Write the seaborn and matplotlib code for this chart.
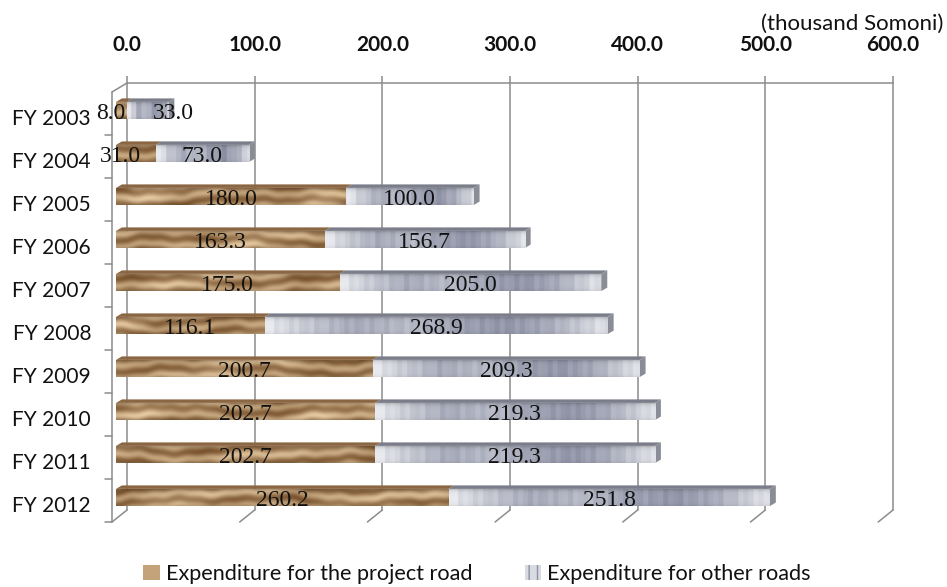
import numpy as np
import pandas as pd
import matplotlib
matplotlib.use("Agg")
import matplotlib.pyplot as plt
import seaborn as sns
from matplotlib.patches import Patch, Polygon
from matplotlib.lines import Line2D
from matplotlib.transforms import ScaledTranslation, IdentityTransform

# ---- data -------------------------------------------------------------
years = ["FY 2003", "FY 2004", "FY 2005", "FY 2006", "FY 2007",
         "FY 2008", "FY 2009", "FY 2010", "FY 2011", "FY 2012"]
project_road = [8.0, 31.0, 180.0, 163.3, 175.0, 116.1, 200.7, 202.7, 202.7, 260.2]
other_roads = [33.0, 73.0, 100.0, 156.7, 205.0, 268.9, 209.3, 219.3, 219.3, 251.8]
x_ticks = [0, 100, 200, 300, 400, 500, 600]
unit_label = "(thousand Somoni)"
legend_labels = ["Expenditure for the project road", "Expenditure for other roads"]

# ---- figure geometry ----------------------------------------------------
W, H, DPI = 947, 587, 100
sns.set_theme(style="white")
plt.rcParams["font.family"] = ["Lato", "DejaVu Sans"]

GRID = "#8c8c8c"
TEXT = "#111111"

fig = plt.figure(figsize=(W / DPI, H / DPI), dpi=DPI)
fig.patch.set_facecolor("white")


def rect(left, top, right, bottom):
    return [left / W, 1 - bottom / H, (right - left) / W, (bottom - top) / H]


# back wall (gridlines + value axis) and the bar plane in front of it
ax_back = fig.add_axes(rect(127, 83, 893, 510))
ax = fig.add_axes(rect(116, 89, 882.2, 519))
ax.set_facecolor("none")

n = len(years)
XMAX = 600
px_x = XMAX / (882.2 - 116)      # data units per pixel, bar plane
px_y = n / (519 - 89)

# ---- back wall ----------------------------------------------------------
ax_back.set_xlim(0, XMAX)
ax_back.set_ylim(0, 1)
ax_back.set_xticks(x_ticks)
ax_back.set_xticklabels([f"{v:.1f}" for v in x_ticks])
ax_back.xaxis.tick_top()
ax_back.tick_params(axis="x", top=True, bottom=False, length=5, width=1.1,
                    color=GRID, pad=15, labelsize=15, labelcolor=TEXT)
for lab in ax_back.get_xticklabels():
    lab.set_fontweight("bold")
ax_back.set_yticks([])
for s in ["left", "right", "bottom"]:
    ax_back.spines[s].set_visible(False)
ax_back.spines["top"].set_color(GRID)
ax_back.spines["top"].set_linewidth(1.1)
ax_back.grid(True, axis="x", color=GRID, linewidth=1.1)
ax_back.grid(False, axis="y")
for gl in ax_back.get_xgridlines():
    gl.set_clip_on(False)

# ---- bars ---------------------------------------------------------------
df = pd.DataFrame({"year": years, "project": project_road, "other": other_roads})
df["total"] = df["project"] + df["other"]

sns.barplot(data=df, x="total", y="year", orient="h", width=0.4,
            color="#a9adbb", saturation=1, errorbar=None, ax=ax)
sns.barplot(data=df, x="project", y="year", orient="h", width=0.4,
            color="#b8936a", saturation=1, errorbar=None, ax=ax)
gray_patches = ax.patches[:n]
wood_patches = ax.patches[n:2 * n]
for p in ax.patches:
    p.set_edgecolor("none")
    p.set_linewidth(0)


def wood_texture(w_px, h_px, phase):
    sx = 2
    nx, ny = max(int(w_px * sx), 2), max(int(h_px * sx), 2)
    X, Y = np.meshgrid(np.arange(nx) / sx, np.arange(ny) / sx)
    warp = (2.6 * np.sin(X / 43 + phase) + 1.6 * np.sin(X / 19 + 2.1 * phase)
            + 0.9 * np.sin(X / 8.3 + 0.7 * phase) + 0.5 * np.sin(X / 3.7 + 1.3 * phase))
    grain = 0.5 + 0.5 * np.sin((Y + warp) / h_px * 2 * np.pi * 1.4 + phase)
    streak = 0.5 + 0.5 * np.sin(X / 31 + (Y / h_px) * 3 + 1.3 * phase)
    knot = 0.5 + 0.5 * np.sin(X / 11 + 0.4 * phase) * np.sin(X / 57 + phase)
    v = 0.55 * grain + 0.25 * streak ** 2 + 0.2 * knot
    light = np.array([0.91, 0.80, 0.64])
    dark = np.array([0.48, 0.33, 0.18])
    img = dark + (light - dark) * v[..., None]
    yy = Y / h_px
    shade = 1 - 0.22 * np.exp(-yy / 0.12) - 0.15 * np.exp(-(1 - yy) / 0.1)
    return np.clip(img * shade[..., None], 0, 1)


def steel_texture(w_px, h_px):
    sx = 2
    nx, ny = max(int(w_px * sx), 2), max(int(h_px * sx), 2)
    X, Y = np.meshgrid(np.arange(nx) / sx, np.arange(ny) / sx)
    band = np.floor(X / 5) * 5
    t = np.clip(band / max(w_px, 1), 0, 1)
    knots = [0, 0.1, 0.25, 0.42, 0.55, 0.7, 0.82, 0.92, 0.97, 1.0]
    level = [0.92, 0.72, 0.5, 0.6, 0.44, 0.36, 0.5, 0.72, 0.86, 0.8]
    # alternating bands give the faceted metal look
    ripple = 0.05 * np.sin(band / 5 * 2.3)
    lv = np.clip(np.interp(t, knots, level) + ripple, 0, 1)
    light = np.array([0.965, 0.968, 0.978])
    dark = np.array([0.36, 0.38, 0.49])
    img = dark + (light - dark) * lv[..., None]
    yy = Y / h_px
    shade = 1 - 0.3 * np.exp(-yy / 0.1) - 0.1 * np.exp(-(1 - yy) / 0.1)
    return np.clip(img * shade[..., None], 0, 1)


half = 0.2
dx, dy = 6 * px_x, 3.5 * px_y
for i in range(n):
    p0 = project_road[i]
    p1 = p0 + other_roads[i]
    top, bot = i - half, i + half
    h_px = 2 * half / px_y

    # top faces
    ax.add_patch(Polygon([(p0, top), (p1, top), (p1 + dx, top - dy), (p0 + dx, top - dy)],
                         closed=True, facecolor="#7b7e8a", edgecolor="none", zorder=2))
    ax.add_patch(Polygon([(0, top), (p0, top), (p0 + dx, top - dy), (dx, top - dy)],
                         closed=True, facecolor="#8a6642", edgecolor="none", zorder=2.1))
    # side cap at the bar end
    ax.add_patch(Polygon([(p1, top), (p1 + dx, top - dy), (p1 + dx, bot - dy), (p1, bot)],
                         closed=True, facecolor="#8a8c96", edgecolor="none", zorder=2))

    im = ax.imshow(steel_texture((p1 - p0) / px_x, h_px), extent=[p0, p1, bot, top],
                   origin="upper", aspect="auto", interpolation="bilinear", zorder=2.5)
    im.set_clip_path(gray_patches[i])
    im = ax.imshow(wood_texture(p0 / px_x, h_px, 1.9 * i + 0.4), extent=[0, p0, bot, top],
                   origin="upper", aspect="auto", interpolation="bilinear", zorder=2.6)
    im.set_clip_path(wood_patches[i])

# value labels (small leading segments are nudged apart so labels stay legible)
label_shift_px = {(0, 0): -10, (0, 1): 26, (1, 0): -15}
for i in range(n):
    segs = [(0, project_road[i]), (project_road[i], project_road[i] + other_roads[i])]
    vals = [project_road[i], other_roads[i]]
    for j, ((a, b), v) in enumerate(zip(segs, vals)):
        xc = (a + b) / 2 + label_shift_px.get((i, j), 0) * px_x
        ax.text(xc, i + 3 * px_y, f"{v:.1f}", ha="center", va="center",
                fontsize=17, family=["Liberation Serif", "DejaVu Serif"],
                color=TEXT, zorder=5)

ax.set_xlim(0, XMAX)
ax.set_ylim(n - 0.5, -0.5)
ax.set_xticks([])
ax.set_xlabel("")
ax.set_ylabel("")
for s in ax.spines.values():
    s.set_visible(False)
ax.tick_params(axis="y", length=0, pad=18, labelsize=15, labelcolor=TEXT)
shift_down = ScaledTranslation(0, -6.5 / DPI, fig.dpi_scale_trans)
for lab in ax.get_yticklabels():
    lab.set_transform(lab.get_transform() + shift_down)

# ---- floor / side wall edges ---------------------------------------------
front = ax.transData + ScaledTranslation(-4 / DPI, -3 / DPI, fig.dpi_scale_trans)
ax.add_line(Line2D([0, 0], [-0.5, n - 0.5], color=GRID, lw=1.1,
                   transform=front, clip_on=False, zorder=1))
for k in range(1, n + 1):
    ax.add_line(Line2D([0, -7 * px_x], [k - 0.5, k - 0.5], color=GRID, lw=1.1,
                       transform=front, clip_on=False, zorder=1))

connectors = [((v, 0.0), (v, n - 0.5)) for v in x_ticks] + [((0, 1.0), (0, -0.5))]
for back_pt, front_pt in connectors:
    b = ax_back.transData.transform(back_pt)
    f = front.transform(front_pt)
    fig.add_artist(Line2D([b[0], f[0]], [b[1], f[1]], color=GRID, lw=1.1,
                          transform=IdentityTransform()))

# ---- unit note and legend -----------------------------------------------
fig.text(943 / W, 1 - 24 / H, unit_label, ha="right", va="center",
         fontsize=16, color=TEXT)

handles = [
    Patch(facecolor="#c4a27a", edgecolor="none"),
    Patch(facecolor="#d9dbe2", edgecolor="#8d90a0", hatch="||", linewidth=0),
]
fig.legend(handles, legend_labels, loc="center", bbox_to_anchor=(477 / W, 1 - 574 / H),
           ncol=2, frameon=False, fontsize=15.6, handlelength=0.75, handleheight=0.75,
           handletextpad=0.3, columnspacing=2.4, labelcolor=TEXT)

fig.savefig("out.png", dpi=DPI, facecolor="white")
